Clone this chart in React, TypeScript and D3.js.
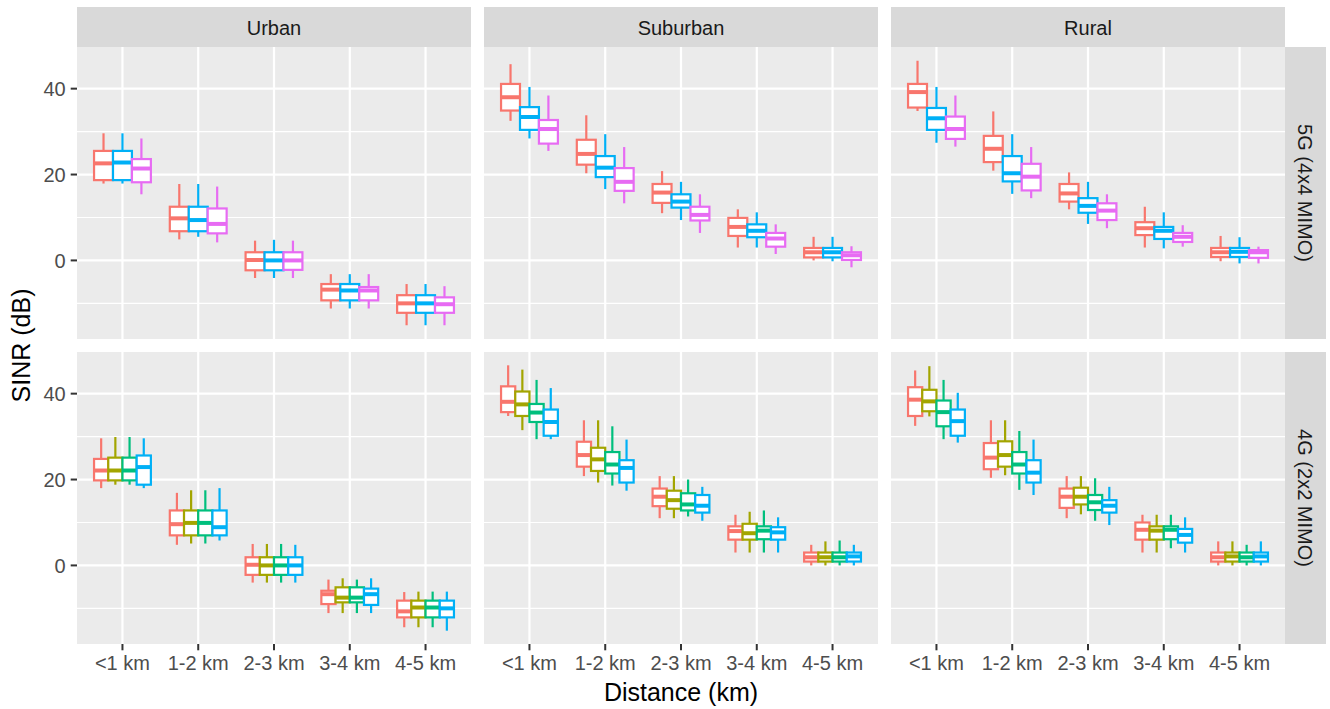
import React, { useEffect } from 'react';
import * as d3 from 'd3';

// facets
const areas = ['Urban', 'Suburban', 'Rural'];
const techs = ['5G (4x4 MIMO)', '4G (2x2 MIMO)'];
const distances = ['<1 km', '1-2 km', '2-3 km', '3-4 km', '4-5 km'];

// fill levels (ggplot hue palette for 5 levels, no legend shown)
const levels = ['L1', 'L2', 'L3', 'L4', 'L5'];
const levelColors = ['#F8766D', '#A3A500', '#00BF7D', '#00B0F6', '#E76BF3'];

const yMajor = [0, 20, 40];
const yMinor = [-10, 10, 30];

// box stats per distance: [ymin, lower, middle, upper, ymax]
type Stats = number[][];

const urban5G: Record<string, Stats> = {
  L1: [[17.9, 18.7, 22.6, 25.5, 29.6], [4.9, 6.8, 9.8, 12.5, 17.8], [-4.1, -2.3, 0.1, 1.9, 4.6], [-11.2, -9.3, -6.8, -5.5, -3.2], [-15.1, -12.2, -10.0, -8.1, -5.5]],
  L4: [[17.9, 18.7, 22.8, 25.5, 29.6], [5.5, 6.8, 9.4, 12.5, 17.8], [-4.1, -2.3, 0, 1.9, 4.8], [-11.2, -9.3, -7.0, -5.5, -3.2], [-15.1, -12.2, -10.0, -8.1, -5.5]],
  L5: [[15.4, 18.2, 21.4, 23.6, 28.4], [4.2, 6.3, 8.5, 12.1, 17.2], [-4.1, -2.2, 0, 1.9, 4.6], [-11.2, -9.3, -7.0, -6.2, -3.2], [-15.1, -12.2, -10.2, -8.6, -6.0]],
};

const urban4G: Record<string, Stats> = {
  L1: [[18.0, 19.8, 22.1, 24.8, 29.6], [4.8, 7.0, 9.6, 12.8, 16.9], [-4.0, -2.2, 0.15, 1.9, 5.0], [-11.1, -9.0, -6.7, -5.9, -3.3], [-14.4, -12.1, -10.7, -8.2, -6.2]],
  L2: [[18.8, 19.8, 22.1, 25.1, 29.9], [5.1, 7.0, 9.9, 12.8, 17.5], [-4.0, -2.2, 0, 1.9, 5.0], [-11.1, -8.6, -7.5, -5.1, -3.0], [-14.4, -12.1, -9.8, -8.2, -6.1]],
  L3: [[18.8, 19.8, 22.1, 25.1, 29.9], [5.1, 7.0, 9.9, 12.8, 17.5], [-4.0, -2.2, 0, 1.9, 5.0], [-11.1, -8.6, -7.5, -5.1, -3.3], [-14.4, -12.1, -9.8, -8.2, -6.1]],
  L4: [[18.0, 18.8, 22.9, 25.6, 29.6], [5.8, 7.0, 8.9, 12.8, 18.0], [-4.0, -2.2, 0, 1.9, 4.8], [-11.1, -9.2, -6.7, -5.4, -3.0], [-15.2, -12.1, -10.0, -8.2, -6.1]],
};

const suburban5G: Record<string, Stats> = {
  L1: [[32.5, 34.9, 38.0, 41.1, 45.7], [20.3, 22.3, 24.8, 28.1, 33.8], [11.0, 13.4, 15.8, 17.8, 20.8], [3.0, 5.7, 7.8, 9.9, 11.9], [0.0, 0.7, 1.9, 2.9, 5.5]],
  L4: [[28.4, 30.4, 33.4, 35.7, 40.4], [16.6, 19.4, 21.6, 24.3, 29.4], [9.4, 12.3, 13.7, 15.4, 18.3], [3.0, 5.4, 6.9, 8.4, 11.2], [-0.2, 0.7, 1.9, 2.9, 5.5]],
  L5: [[25.5, 27.2, 30.6, 32.7, 38.4], [13.3, 16.2, 18.3, 21.5, 26.4], [6.4, 9.3, 10.6, 12.5, 15.4], [1.5, 3.2, 5.1, 6.4, 8.4], [-1.6, 0.1, 1.2, 1.9, 3.3]],
};

const suburban4G: Record<string, Stats> = {
  L1: [[34.8, 35.7, 38.1, 41.7, 46.6], [20.8, 23.0, 25.7, 28.8, 33.8], [11.0, 13.8, 16.0, 17.9, 20.8], [3.0, 6.0, 8.0, 9.1, 11.8], [0, 0.9, 1.9, 3.0, 4.8]],
  L2: [[31.5, 34.8, 37.5, 40.5, 45.6], [19.3, 22.0, 24.7, 27.4, 33.8], [11.0, 13.2, 15.2, 17.4, 20.8], [3.0, 6.0, 7.5, 9.7, 12.5], [0, 0.9, 1.9, 3.0, 5.6]],
  L3: [[29.4, 33.4, 35.6, 37.6, 43.2], [18.6, 21.4, 23.5, 26.4, 32.4], [11.4, 12.8, 14.2, 16.8, 20.0], [3.0, 6.1, 8.1, 9.1, 12.8], [0, 0.9, 1.9, 3.0, 5.8]],
  L4: [[29.4, 30.2, 33.4, 36.3, 41.3], [17.4, 19.3, 22.7, 24.5, 29.3], [10.4, 12.3, 13.9, 16.4, 18.3], [3.0, 6.0, 7.7, 8.9, 11.2], [0, 0.9, 2.1, 3.0, 4.8]],
};

const rural5G: Record<string, Stats> = {
  L1: [[34.8, 35.6, 39.2, 41.1, 46.5], [20.9, 22.9, 26.0, 29.0, 34.7], [11.9, 13.7, 15.6, 17.8, 20.5], [3.0, 5.9, 7.5, 8.9, 12.5], [-0.2, 0.8, 1.9, 2.9, 5.7]],
  L4: [[27.4, 30.4, 33.1, 35.5, 40.4], [15.5, 18.4, 20.3, 24.3, 29.4], [8.5, 11.1, 12.7, 14.5, 18.3], [2.8, 5.0, 6.9, 7.8, 11.2], [-0.7, 0.8, 2.0, 2.9, 5.4]],
  L5: [[26.5, 28.3, 30.6, 33.5, 38.4], [14.5, 16.3, 19.5, 22.5, 26.4], [7.5, 9.4, 11.6, 13.3, 15.4], [3.2, 4.3, 5.5, 6.4, 8.2], [-0.7, 0.6, 1.9, 2.4, 3.2]],
};

const rural4G: Record<string, Stats> = {
  L1: [[32.5, 34.8, 38.6, 41.5, 45.4], [20.4, 22.4, 25.1, 28.5, 33.8], [11.0, 13.4, 16.0, 17.9, 20.8], [3.0, 6.0, 8.3, 10.0, 11.8], [0, 0.9, 1.9, 3.0, 5.6]],
  L2: [[34.7, 35.9, 38.2, 40.9, 46.4], [21.0, 23.0, 25.7, 28.9, 33.8], [11.9, 14.2, 16.0, 18.1, 20.8], [3.0, 6.0, 8.1, 9.1, 11.8], [0, 0.9, 2.1, 3.0, 5.6]],
  L3: [[29.4, 32.4, 35.7, 38.4, 43.2], [17.6, 21.4, 23.5, 26.4, 31.3], [10.4, 12.9, 14.7, 16.4, 20.3], [4.0, 6.1, 8.3, 9.1, 11.8], [0, 0.9, 1.9, 3.0, 4.8]],
  L4: [[28.6, 30.2, 33.6, 36.3, 40.2], [16.4, 19.3, 21.6, 24.5, 29.3], [9.4, 12.3, 13.9, 15.2, 18.3], [3.0, 5.3, 7.1, 8.5, 11.2], [0, 0.9, 2.1, 3.0, 5.6]],
};

// [row][col]
const panelData = [
  [urban5G, suburban5G, rural5G],
  [urban4G, suburban4G, rural4G],
];

const W = 1330;
const H = 709;
const FONT = '"Liberation Sans", Arial, Helvetica, sans-serif';
const panelW = 394;
const panelH = 292;
const colX = [77, 484, 891];
const rowY = [47, 352];
const stripTop = 7;
const stripW = 41;

function Panel({ x0, y0, data, showX, showY }: {
  x0: number; y0: number; data: Record<string, Stats>; showX: boolean; showY: boolean;
}) {
  const x = d3.scalePoint<string>().domain(distances).range([x0, x0 + panelW]).padding(0.6);
  const y = d3.scaleLinear().domain([-18.3, 49.7]).range([y0 + panelH, y0]);
  const step = x.step();
  const keys = levels.filter(k => data[k]);
  const dodge = d3.scaleBand<string>().domain(keys).range([-0.375 * step, 0.375 * step]).padding(0);
  const bw = dodge.bandwidth();

  return (
    <g>
      <rect x={x0} y={y0} width={panelW} height={panelH} fill="#EBEBEB" />
      {yMinor.map(v => (
        <line key={'mn' + v} x1={x0} x2={x0 + panelW} y1={y(v)} y2={y(v)} stroke="#fff" strokeWidth={1.1} />
      ))}
      {yMajor.map(v => (
        <line key={'mj' + v} x1={x0} x2={x0 + panelW} y1={y(v)} y2={y(v)} stroke="#fff" strokeWidth={2.2} />
      ))}
      {distances.map(d => (
        <line key={'vx' + d} x1={x(d)} x2={x(d)} y1={y0} y2={y0 + panelH} stroke="#fff" strokeWidth={2.2} />
      ))}

      {distances.map((d, di) => keys.map(k => {
        const [lo, q1, med, q3, hi] = data[k][di];
        const color = levelColors[levels.indexOf(k)];
        const left = (x(d) as number) + (dodge(k) as number);
        const cx = left + bw / 2;
        return (
          <g key={d + k}>
            <line x1={cx} x2={cx} y1={y(hi)} y2={y(q3)} stroke={color} strokeWidth={2.2} />
            <line x1={cx} x2={cx} y1={y(q1)} y2={y(lo)} stroke={color} strokeWidth={2.2} />
            <rect x={left} y={y(q3)} width={bw} height={y(q1) - y(q3)} fill="#fff" stroke={color} strokeWidth={2.2} />
            <line x1={left} x2={left + bw} y1={y(med)} y2={y(med)} stroke={color} strokeWidth={4} />
          </g>
        );
      }))}

      {showY && yMajor.map(v => (
        <g key={'yt' + v}>
          <line x1={x0 - 6.3} x2={x0} y1={y(v)} y2={y(v)} stroke="#333333" strokeWidth={2} />
          <text x={x0 - 11.3} y={y(v) + 7.1} textAnchor="end" fontSize={20} fill="#4D4D4D" fontFamily={FONT}>{v}</text>
        </g>
      ))}
      {showX && distances.map(d => (
        <g key={'xt' + d}>
          <line x1={x(d)} x2={x(d)} y1={y0 + panelH} y2={y0 + panelH + 6.3} stroke="#333333" strokeWidth={2} />
          <text x={x(d)} y={y0 + panelH + 26} textAnchor="middle" fontSize={20} fill="#4D4D4D" fontFamily={FONT}>{d}</text>
        </g>
      ))}
    </g>
  );
}

export default function App() {
  useEffect(() => {
    document.body.style.margin = '0';
  }, []);

  const rightX = colX[2] + panelW;

  return (
    <svg width={W} height={H} viewBox={`0 0 ${W} ${H}`} style={{ display: 'block', background: '#fff' }}>
      {areas.map((a, ci) => (
        <g key={'st' + a}>
          <rect x={colX[ci]} y={stripTop} width={panelW} height={rowY[0] - stripTop} fill="#D9D9D9" />
          <text x={colX[ci] + panelW / 2} y={34.5} textAnchor="middle" fontSize={20} fill="#1A1A1A" fontFamily={FONT}>{a}</text>
        </g>
      ))}
      {techs.map((t, ri) => (
        <g key={'sr' + t}>
          <rect x={rightX} y={rowY[ri]} width={stripW} height={panelH} fill="#D9D9D9" />
          <text
            transform={`translate(${rightX + stripW / 2 - 7.2},${rowY[ri] + panelH / 2}) rotate(90)`}
            textAnchor="middle" fontSize={20} fill="#1A1A1A" fontFamily={FONT}
          >{t}</text>
        </g>
      ))}
      {panelData.map((row, ri) => row.map((data, ci) => (
        <Panel key={ri + '-' + ci} x0={colX[ci]} y0={rowY[ri]} data={data}
          showX={ri === 1} showY={ci === 0} />
      )))}
      <text x={(colX[0] + colX[2] + panelW) / 2} y={701} textAnchor="middle" fontSize={25} fill="#000" fontFamily={FONT}>Distance (km)</text>
      <text transform={`translate(30,${(rowY[0] + rowY[1] + panelH) / 2}) rotate(-90)`} textAnchor="middle" fontSize={25} fill="#000" fontFamily={FONT}>SINR (dB)</text>
    </svg>
  );
}
